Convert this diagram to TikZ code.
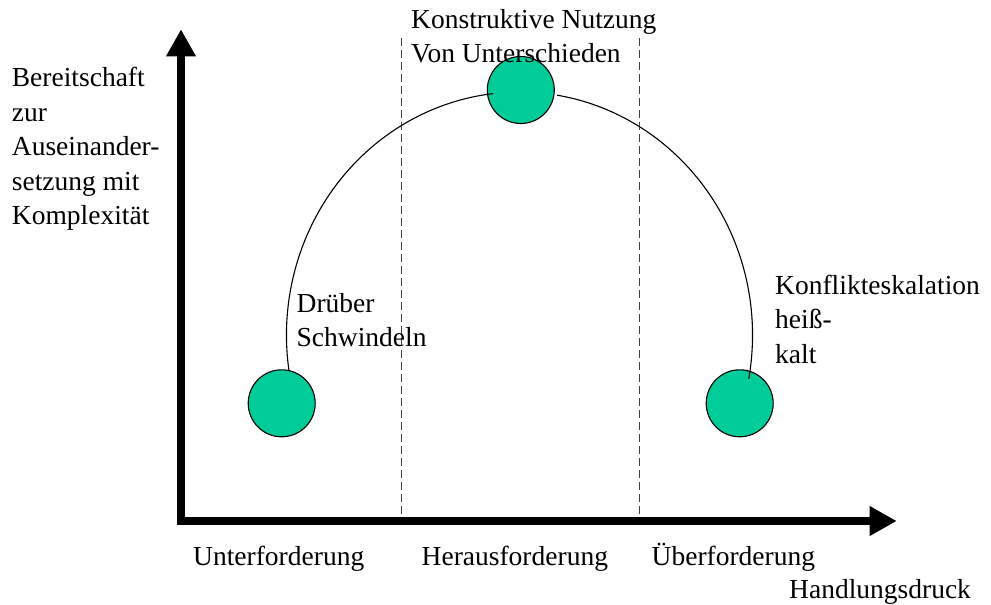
\documentclass[tikz,border=0pt]{standalone}
\usepackage{fontspec}
\setmainfont{Liberation Serif}
\usetikzlibrary{arrows.meta}
\definecolor{ballgreen}{RGB}{0,204,153}
\begin{document}
\begin{tikzpicture}[x=1pt,y=1pt,
  ball/.style={circle,draw=black,line width=1.1pt,fill=ballgreen,minimum size=67pt,inner sep=0pt},
  lbl/.style={anchor=base west,align=left,inner sep=0pt,font=\fontsize{27.5}{34.5}\selectfont},
  axisline/.style={line width=8.5pt,line join=miter,{Triangle[length=27pt,width=28pt]}-{Triangle[length=27pt,width=28pt]}},
  guide/.style={dash pattern=on 8pt off 4pt,line width=0.9pt,black!75},
  curve/.style={line width=1.1pt}]
\useasboundingbox (0,0) rectangle (991,-605);
% guides
\coordinate (g1t) at (401,-38);
\coordinate (g1b) at (401,-517);
\coordinate (g2t) at (639.5,-38);
\coordinate (g2b) at (639.5,-517);
\draw[guide] (g1t) -- (g1b);
\draw[guide] (g2t) -- (g2b);
% axes
\coordinate (ytip) at (181,-29.3);
\coordinate (O) at (181,-521);
\coordinate (xtip) at (896.7,-521);
\draw[axisline] (ytip) -- (O) -- (xtip);
% balls
\node[ball] (bL) at (281.7,-403.3) {};
\node[ball] (bT) at (520.8,-90) {};
\node[ball] (bR) at (739.7,-403.3) {};
% arc
\coordinate (arcL) at (288.9,-370.1);
\coordinate (arcR) at (557.2,-95.2);
\draw[curve] (arcL) arc[start angle=188.3,end angle=96.5,x radius=233pt,y radius=243pt];
\draw[curve] (arcR) arc[start angle=80.7,end angle=-10.4,x radius=233pt,y radius=243pt];
% labels (anchor = baseline of last line)
\node[lbl] (ylab) at (11.7,-224.7) {Bereitschaft\\zur\\Auseinander-\\setzung mit\\Komplexität};
\node[lbl] (toplab) at (411,-62.8) {Konstruktive Nutzung\\Von Unterschieden};
\node[lbl] (leftlab) at (296.5,-346.5) {Drüber\\Schwindeln};
\node[lbl] (rightlab) at (775,-363) {Konflikteskalation\\heiß-\\kalt};
\node[lbl] (u1) at (193,-565) {Unterforderung};
\node[lbl] (u2) at (421.5,-565) {Herausforderung};
\node[lbl] (u3) at (651.5,-565) {Überforderung};
\node[lbl] (xlab) at (789,-598) {Handlungsdruck};
\end{tikzpicture}
\end{document}
